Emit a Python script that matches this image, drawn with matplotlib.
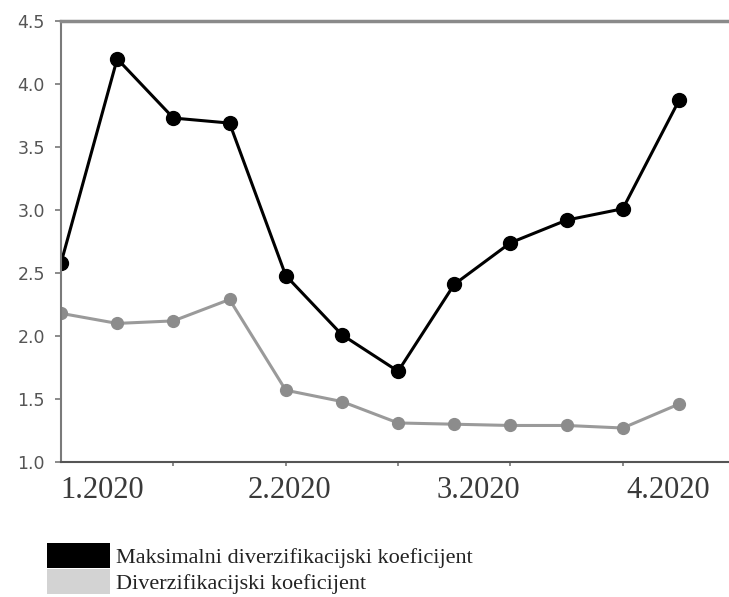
import matplotlib
matplotlib.use("Agg")
import matplotlib.pyplot as plt
from matplotlib.patches import Patch
from matplotlib.ticker import FixedLocator, NullFormatter

# ---- data ----
max_coef = [2.58, 4.20, 3.73, 3.69, 2.48, 2.01, 1.72, 2.41, 2.74, 2.92, 3.01, 3.87]
div_coef = [2.18, 2.10, 2.12, 2.29, 1.57, 1.48, 1.31, 1.30, 1.29, 1.29, 1.27, 1.46]
month_labels = ["1.2020", "2.2020", "3.2020", "4.2020"]
month_pos = [0.74, 4.07, 7.43, 10.80]
minor_pos = [2, 4, 6, 8, 10]
y_ticks = [1.0, 1.5, 2.0, 2.5, 3.0, 3.5, 4.0, 4.5]
legend_labels = ["Maksimalni diverzifikacijski koeficijent", "Diverzifikacijski koeficijent"]

x = list(range(len(max_coef)))

fig = plt.figure(figsize=(7.29, 5.97), dpi=100)
ax = fig.add_axes([0.0837, 0.2261, 0.9163, 0.7387])

ax.plot(x, max_coef, color="black", lw=2.2, marker="o", ms=10, mfc="black", mec="black",
        zorder=3, clip_on=True)
ax.plot(x, div_coef, color="#9a9a9a", lw=2.2, marker="o", ms=8.5, mfc="#8c8c8c", mec="#8c8c8c",
        zorder=2, clip_on=True)

ax.set_xlim(0, 11.89)
ax.set_ylim(1.0, 4.5)

ax.set_yticks(y_ticks)
ax.set_yticklabels([f"{v:.1f}" for v in y_ticks], fontsize=12.5, color="#555555",
                   family="DejaVu Sans")
ax.tick_params(axis="y", length=4.5, width=1.2, color="#777777", pad=7)

ax.xaxis.set_major_locator(FixedLocator(month_pos))
ax.set_xticklabels(month_labels, fontsize=22, color="#3a3a3a", family="Liberation Serif")
ax.tick_params(axis="x", which="major", length=0, pad=10)
ax.xaxis.set_minor_locator(FixedLocator(minor_pos))
ax.xaxis.set_minor_formatter(NullFormatter())
ax.tick_params(axis="x", which="minor", length=3, width=1.2, color="#777777")

ax.spines["right"].set_visible(False)
ax.spines["left"].set_color("#7a7a7a")
ax.spines["left"].set_linewidth(1.5)
ax.spines["top"].set_color("#8a8a8a")
ax.spines["top"].set_linewidth(2.5)
ax.spines["bottom"].set_color("#555555")
ax.spines["bottom"].set_linewidth(1.5)
for s in ax.spines.values():
    s.set_zorder(5)

handles = [Patch(facecolor="black", edgecolor="none"),
           Patch(facecolor="#d3d3d3", edgecolor="none")]
fig.legend(handles, legend_labels, loc="upper left", bbox_to_anchor=(0.0645, 0.0905),
           frameon=False, prop={"family": "Liberation Serif", "size": 16},
           handlelength=2.85, handleheight=1.35, handletextpad=0.25, labelspacing=0.05,
           borderpad=0, borderaxespad=0, labelcolor="#222222")

fig.savefig("out.png", dpi=100, facecolor="white")
